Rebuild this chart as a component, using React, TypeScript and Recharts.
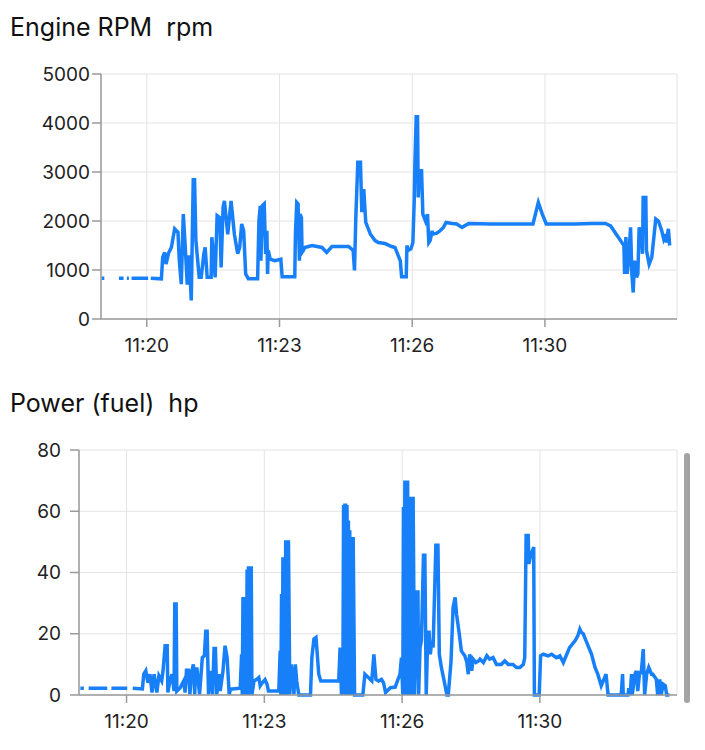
import React from "react";
import { LineChart, Line, XAxis, YAxis, CartesianGrid } from "recharts";

// seconds after 11:00:00, null = gap in the log
const rpmSec = [
  1132, 1136, 1147, 1158, 1165, 1167, 1170, 1173, 1175, 1177, 1202, 1204, 1206,
  1222, 1224, 1227, 1229, 1233, 1237, 1242, 1247, 1249, 1252, 1255, 1258, 1261,
  1264, 1267, 1270, 1272, 1274, 1279, 1282, 1286, 1288, 1291, 1297, 1298, 1301,
  1303, 1306, 1310, 1312, 1315, 1317, 1322, 1327, 1332, 1337, 1340, 1343, 1346,
  1349, 1353, 1367, 1369, 1371, 1372, 1374, 1377, 1379, 1381, 1382, 1383, 1386,
  1393, 1402, 1404, 1423, 1424, 1426, 1428, 1430, 1431, 1433, 1434, 1436, 1438,
  1449, 1464, 1471, 1479, 1504, 1511, 1513, 1515, 1518, 1522, 1524, 1527, 1529,
  1530, 1537, 1544, 1549, 1559, 1569, 1574, 1579, 1582, 1584, 1591, 1592, 1594,
  1598, 1601, 1603, 1604, 1606, 1608, 1609, 1611, 1613, 1614, 1616, 1620, 1623,
  1625, 1627, 1630, 1631, 1637, 1642, 1647, 1651, 1660, 1667, 1675, 1685, 1718,
  1758, 1782, 1790, 1796, 1802, 1846, 1871, 1891, 1899, 1909, 1919, 1920, 1922,
  1924, 1926, 1929, 1931, 1933, 1935, 1938, 1940, 1942, 1945, 1947, 1948, 1952,
  1953, 1957, 1961, 1967, 1971, 1976, 1979, 1982, 1983, 1986, 1988,
];
const rpmValues = [
  830, 830, null, 830, 830, null, 830, 830, null, 830, 830, null, 830,
  820, 1260, 1360, 1120, 1350, 1460, 1840, 1770, 1190, 710, 2140, 1460, 700,
  1300, 380, 2840, 2840, 1600, 850, 850, 1330, 1460, 850, 850, 1670, 1260,
  850, 2110, 2070, 1050, 2280, 2410, 1730, 2410, 1730, 1330, 1460, 1940, 1800,
  920, 820, 820, 2000, 2310, 1190, 2310, 2350, 1330, 1800, 920, 1400, 1220,
  1190, 1220, 860, 860, 1730, 2380, 2350, 1190, 2140, 2070, 1360, 1400, 1460,
  1500, 1460, 1360, 1480, 1480, 1400, 990, 2070, 3200, 3200, 2180, 2650, 2180,
  1970, 1730, 1600, 1560, 1540, 1480, 1460, 1290, 1190, 860, 860, 1500, 1400,
  1430, 1560, 2410, 3160, 4130, 4130, 2480, 3060, 2750, 3060, 2140, 2000, 2140,
  1560, 1600, 1800, 1730, 1750, 1800, 1870, 1970, 1950, 1940, 1870, 1950, 1940,
  1940, 1940, 2380, 2140, 1940, 1940, 1950, 1950, 1900, 1700, 1500, 920, 1670,
  920, 1190, 1870, 920, 540, 1190, 850, 920, 1870, 1730, 1330, 2480, 2480,
  1400, 1120, 1260, 2040, 2000, 1800, 1630, 1730, 1560, 1840, 1500,
];

const powerSec = [
  1133, 1138, 1141, 1145, 1172, 1175, 1178, 1201, 1205, 1209,
  1223, 1225, 1228, 1231, 1234, 1237, 1240, 1244, 1247, 1251,
  1253, 1256, 1259, 1260, 1263, 1266, 1269, 1270, 1272, 1273,
  1278, 1283, 1285, 1287, 1290, 1292, 1294, 1297, 1299, 1300,
  1302, 1306, 1310, 1313, 1315, 1317, 1319, 1322, 1325, 1327,
  1329, 1331, 1334, 1336, 1340, 1343, 1346, 1349, 1351, 1365,
  1367, 1368, 1369, 1370, 1371, 1372, 1373, 1374, 1375, 1376,
  1377, 1378, 1379, 1380, 1381, 1382, 1385, 1389, 1392, 1394,
  1397, 1401, 1404, 1406, 1421, 1423, 1424, 1425, 1426, 1427,
  1428, 1429, 1430, 1431, 1432, 1433, 1434, 1435, 1437, 1439,
  1442, 1443, 1445, 1447, 1450, 1467, 1469, 1472, 1475, 1479,
  1482, 1508, 1510, 1512, 1513, 1514, 1515, 1516, 1517, 1518,
  1519, 1520, 1521, 1522, 1523, 1524, 1525, 1526, 1527, 1528,
  1529, 1531, 1543, 1546, 1551, 1556, 1559, 1562, 1566, 1570,
  1573, 1576, 1583, 1590, 1594, 1597, 1599, 1601, 1602, 1603,
  1604, 1605, 1606, 1607, 1608, 1609, 1610, 1611, 1612, 1613,
  1614, 1615, 1616, 1618, 1620, 1621, 1623, 1624, 1626, 1628,
  1631, 1633, 1635, 1637, 1639, 1641, 1643, 1645, 1649, 1652,
  1654, 1657, 1661, 1665, 1667, 1671, 1674, 1677, 1679, 1683,
  1686, 1691, 1694, 1696, 1698, 1701, 1703, 1707, 1711, 1713,
  1718, 1723, 1727, 1732, 1737, 1744, 1749, 1754, 1761, 1766,
  1771, 1776, 1778, 1780, 1783, 1784, 1787, 1789, 1791, 1792,
  1799, 1801, 1805, 1812, 1817, 1824, 1829, 1834, 1839, 1843,
  1851, 1855, 1858, 1860, 1863, 1867, 1875, 1880, 1884, 1889,
  1894, 1896, 1899, 1918, 1920, 1921, 1928, 1929, 1931, 1933,
  1934, 1938, 1940, 1942, 1945, 1947, 1950, 1952, 1955, 1958,
  1962, 1964, 1969, 1971, 1974, 1976, 1979, 1982, 1984, 1988,
];
const powerValues = [
  2.2, 2.2, null, 2.2, 2.2, null, 2.2, 2.2, null, 2.2,
  2, 6.8, 7.9, 4, 6.8, 0.8, 6.8, 0.8, 6.3, 4.6,
  7.9, 16.1, 16.1, 0.8, 4.6, 6.8, 1.3, 29.7, 29.7, 1.3,
  2.4, 4.6, 0.8, 8.1, 8.1, 0.2, 6.8, 10, 0.2, 6.8,
  9, 0.2, 12.2, 12.8, 20.8, 20.8, 0.2, 7.9, 0.2, 15.2,
  15.2, 0.2, 6.8, 1.3, 7.9, 16.1, 12.2, 0.2, 1.9, 2.2,
  13.3, 0, 32, 0, 32, 0, 32, 0, 41, 0,
  42, 0, 42, 0, 42, 0, 4.6, 5.1, 5.7, 3,
  4, 5, 3.5, 1.3, 1.3, 14.4, 0, 33, 0, 45,
  0, 45, 0, 50.5, 0, 50.5, 0, 50.5, 0.2, 10,
  4.6, 0.2, 10, 4.6, 0, 0, 12.2, 18.3, 18.8, 6.8,
  4.6, 4.6, 15.5, 0, 15.5, 0, 62, 0, 62, 62,
  0, 62, 0, 57, 0, 53.8, 0, 51, 0, 51,
  51, 0, 0, 6.8, 5.7, 4.6, 13.3, 5.1, 4.6, 5.1,
  4, 0.8, 2.4, 2.6, 5.1, 6.8, 12.2, 0, 61.4, 0,
  70, 0, 70, 0, 70, 0, 17.7, 0, 64.7, 0,
  64.7, 0, 64.7, 0, 15.5, 33.6, 33.6, 0, 15.5, 17.7,
  45.6, 45.6, 0, 17.7, 21, 13.3, 17.7, 15.5, 48.9, 48.9,
  13.3, 9, 4.6, 0, 0, 11, 28.6, 31.9, 26.4, 19.9,
  14.4, 12.8, 10.6, 6.8, 13.3, 7.9, 11.7, 10.6, 11.1, 11.7,
  10.6, 12.8, 11.7, 12.2, 10, 10, 11.1, 10, 10, 9,
  9, 10, 12.2, 52.1, 52.1, 42.8, 46.1, 47, 48.3, 0,
  0, 12.8, 13.3, 12.8, 13.3, 12.2, 12.8, 10.6, 13.3, 15.5,
  17.7, 19.3, 21.5, 20.5, 20, 17.7, 13.3, 9, 6.8, 3,
  5.7, 6.8, 0, 0, 6.8, 0, 0, 2.2, 0, 6.8,
  0, 6.8, 7.9, 1.3, 7.9, 6.8, 15, 0, 6.8, 9,
  6.8, 6.8, 5.1, 0, 5.1, 0, 3.5, 3, 0, 0,
];

const timeTicks = [1200, 1400, 1600, 1800];
const rpmTicks = [0, 1000, 2000, 3000, 4000, 5000];
const powerTicks = [0, 20, 40, 60, 80];

const rpmData = rpmSec.map((t, i) => ({ t, v: rpmValues[i] }));
const powerData = powerSec.map((t, i) => ({ t, v: powerValues[i] }));

const BLUE = "#1780f8";
const FONT = "Inter, 'Noto Sans', sans-serif";

const fmtTime = (s: number) => `11:${String(Math.floor(s / 60)).padStart(2, "0")}`;

const tickStyle = { fill: "#222", fontSize: 19, fontFamily: FONT };

function Panel({
  data,
  ticks,
  max,
  yWidth,
  top,
  yMargin,
}: {
  data: { t: number; v: number | null }[];
  ticks: number[];
  max: number;
  yWidth: number;
  top: number;
  yMargin: number;
}) {
  return (
    <LineChart
      width={705}
      height={370}
      data={data}
      margin={{ top, right: 28, bottom: 370 - top - 245 - 30, left: 0 }}
    >
      <CartesianGrid stroke="#e4e4e4" strokeWidth={1} />
      <XAxis
        dataKey="t"
        type="number"
        domain={[1131, 1999]}
        ticks={timeTicks}
        tickFormatter={fmtTime}
        height={30}
        tick={tickStyle}
        tickSize={8}
        tickMargin={12}
        stroke="#9a9a9a"
        strokeWidth={1.5}
      />
      <YAxis
        type="number"
        domain={[0, max]}
        ticks={ticks}
        width={yWidth}
        tick={tickStyle}
        tickSize={9}
        tickMargin={yMargin}
        stroke="#9a9a9a"
        strokeWidth={1.5}
      />
      <Line
        dataKey="v"
        stroke={BLUE}
        strokeWidth={3.5}
        dot={false}
        connectNulls={false}
        isAnimationActive={false}
      />
    </LineChart>
  );
}

const titleStyle: React.CSSProperties = {
  position: "absolute",
  left: 10,
  fontFamily: FONT,
  fontSize: 25,
  lineHeight: "25px",
  color: "#111",
  whiteSpace: "pre",
};

export default function App() {
  return (
    <div
      style={{
        position: "absolute",
        left: 0,
        top: 0,
        width: 705,
        height: 750,
        background: "#fff",
        overflow: "hidden",
      }}
    >
      <div style={{ ...titleStyle, top: 15 }}>Engine RPM  rpm</div>
      <div style={{ position: "absolute", left: 0, top: 0 }}>
        <Panel data={rpmData} ticks={rpmTicks} max={5000} yWidth={101} top={74} yMargin={2} />
      </div>
      <div style={{ ...titleStyle, top: 391 }}>Power (fuel)  hp</div>
      <div style={{ position: "absolute", left: 0, top: 380 }}>
        <Panel data={powerData} ticks={powerTicks} max={80} yWidth={79} top={70} yMargin={9} />
      </div>
      <div
        style={{
          position: "absolute",
          left: 684,
          top: 453,
          width: 6,
          height: 250,
          borderRadius: 3,
          background: "#a3a3a3",
        }}
      />
    </div>
  );
}
